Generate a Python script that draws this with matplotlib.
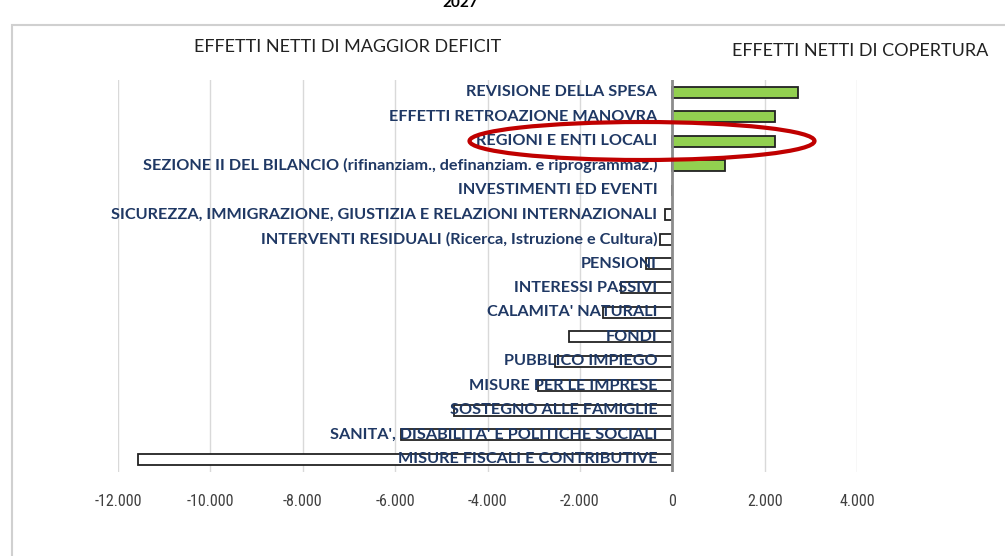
import matplotlib
matplotlib.use("Agg")
import matplotlib.pyplot as plt
import matplotlib.ticker as ticker
import matplotlib.transforms as mtransforms
import matplotlib.font_manager as fm
from matplotlib.patches import Ellipse, Rectangle

# categorie, dall'alto verso il basso
categorie = [
    "REVISIONE DELLA SPESA",
    "EFFETTI RETROAZIONE MANOVRA",
    "REGIONI E ENTI LOCALI",
    "SEZIONE II DEL BILANCIO (rifinanziam., definanziam. e riprogrammaz.)",
    "INVESTIMENTI ED EVENTI",
    "SICUREZZA, IMMIGRAZIONE, GIUSTIZIA E RELAZIONI INTERNAZIONALI",
    "INTERVENTI RESIDUALI (Ricerca, Istruzione e Cultura)",
    "PENSIONI",
    "INTERESSI PASSIVI",
    "CALAMITA' NATURALI",
    "FONDI",
    "PUBBLICO IMPIEGO",
    "MISURE PER LE IMPRESE",
    "SOSTEGNO ALLE FAMIGLIE",
    "SANITA', DISABILITA' E POLITICHE SOCIALI",
    "MISURE FISCALI E CONTRIBUTIVE",
]
# valori in milioni
valori = [2720, 2230, 2230, 1150, 0, -150, -260, -570, -1100, -1510,
          -2240, -2530, -2900, -4730, -5880, -11570]

tick_valori = [-12000, -10000, -8000, -6000, -4000, -2000, 0, 2000, 4000]

nomi = {f.name for f in fm.fontManager.ttflist}
stretto = 'Roboto Condensed' if 'Roboto Condensed' in nomi else 'Lato'
plt.rcParams['font.family'] = ['Lato', 'DejaVu Sans']

fig = plt.figure(figsize=(10.05, 5.56), dpi=100)

# cornice grigia
fig.patches.append(Rectangle((12/1005, -0.1), 1.2, 1 - 25/556 + 0.1,
                             transform=fig.transFigure, fill=False,
                             edgecolor='#d0d0d0', linewidth=1.5))

ax = fig.add_axes([118/1005, 1 - 471.5/556, 739/1005, 391.5/556])

n = len(categorie)
pos = list(range(n))
colori = ['#92D050' if v > 0 else 'white' for v in valori]
ax.barh(pos, valori, height=0.45, color=colori, edgecolor='#222222',
        linewidth=1.3, zorder=3)

ax.set_ylim(n - 0.5, -0.5)
ax.set_xlim(-12000, 4000)
ax.set_xticks(tick_valori)
ax.xaxis.set_major_formatter(ticker.FuncFormatter(
    lambda v, p: '{:,.0f}'.format(v).replace(',', '.')))
ax.tick_params(axis='x', length=0, labelsize=11.5, colors='#404040', pad=16)
for lab in ax.get_xticklabels():
    lab.set_family([stretto, 'DejaVu Sans'])
ax.set_yticks([])
ax.grid(True, axis='x', color='#d9d9d9', linewidth=1, zorder=0)
for s in ax.spines.values():
    s.set_visible(False)
ax.axvline(0, color='#8c8c8c', linewidth=2, zorder=4)

# etichette accanto all'asse
off = mtransforms.offset_copy(ax.transData, fig=fig, x=-15, y=0, units='dots')
for i, c in enumerate(categorie):
    ax.text(0, i, c, transform=off, ha='right', va='center', fontsize=11.7,
            fontweight='bold', color='#1F3864', zorder=5)

fig.text(348/1005, 1 - 47/556, "EFFETTI NETTI DI MAGGIOR DEFICIT",
         ha='center', va='center', fontsize=13, color='#222222')
fig.text(860/1005, 1 - 51/556, "EFFETTI NETTI DI COPERTURA",
         ha='center', va='center', fontsize=13, color='#222222')
fig.text(460/1005, 0.995, "2027", ha='center', va='center', fontsize=11,
         fontweight='bold', color='black')

# ellisse rossa
fig.patches.append(Ellipse((642/1005, 1 - 141/556), 345/1005, 38/556,
                           transform=fig.transFigure, fill=False,
                           edgecolor='#C00000', linewidth=3, zorder=10))

plt.savefig('out.png', dpi=100)
